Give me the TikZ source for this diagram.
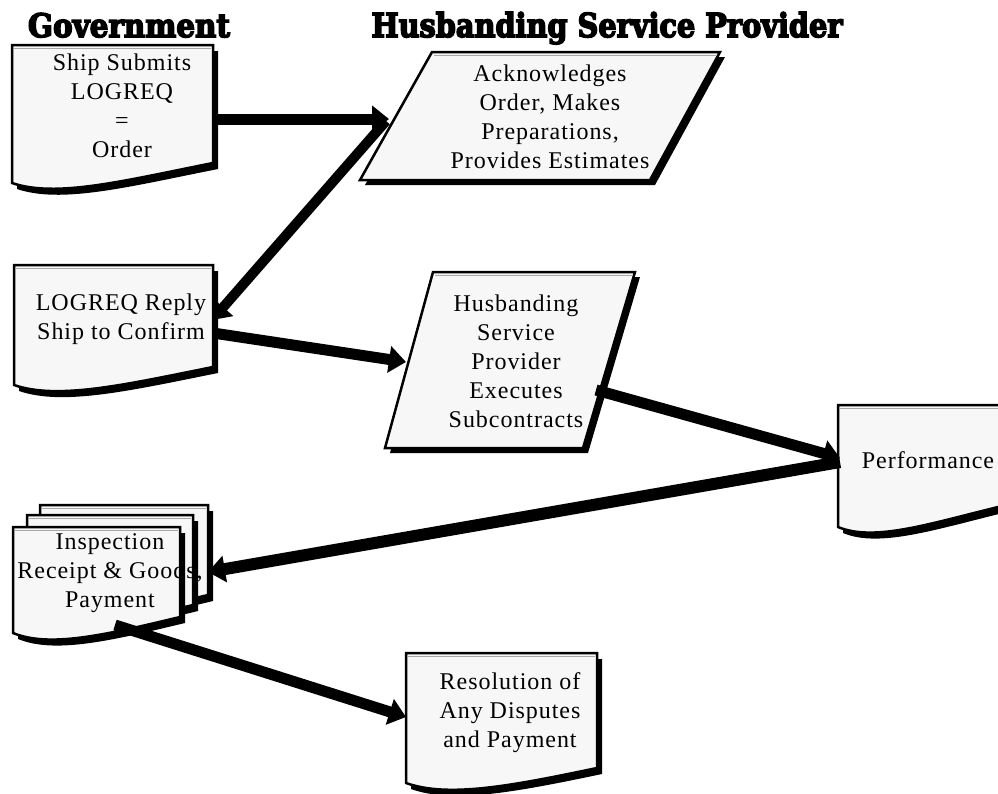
\documentclass[tikz,border=0pt]{standalone}
\usepackage{fontspec}
\setmainfont{Liberation Serif}[LetterSpace=4]
\newfontfamily\headfont{DejaVu Serif Bold}[FakeBold=5]
\usetikzlibrary{arrows.meta}
\definecolor{docfill}{HTML}{F7F7F7}
\tikzset{
  arr/.style={line width=11pt, -{Triangle[length=17pt,width=26pt]}},
  lbl/.style={align=center, inner sep=0pt, font=\fontsize{24}{29}\selectfont},
  hdr/.style={inner sep=0pt, anchor=base},
  outl/.style={fill=docfill, draw=black, line width=2.5pt, line join=miter},
  shad/.style={fill=black},
}
% document shape: L, T, R, BL, BR
\newcommand\docpath[5]{(#1,#2) -- (#3,#2) -- (#3,#5) .. controls ({#1+0.55*(#3-#1)},{#5+18}) and ({#1+0.22*(#3-#1)},{#4+15}) .. (#1,#4) -- cycle}
\newcommand\mydoc[5]{%
  \begin{scope}[shift={(5,6)}]\fill[shad] \docpath{#1}{#2}{#3}{#4}{#5};\end{scope}
  \filldraw[outl] \docpath{#1}{#2}{#3}{#4}{#5};
  \draw[gray!70, line width=1pt] ({#1+2},{#2+3.5}) -- ({#3-2},{#2+3.5});
}
% parallelogram: TL, TR, BL, BR, T, B
\newcommand\parpath[6]{(#1,#5) -- (#2,#5) -- (#4,#6) -- (#3,#6) -- cycle}
\newcommand\mypar[6]{%
  \begin{scope}[shift={(5,5)}]\fill[shad] \parpath{#1}{#2}{#3}{#4}{#5}{#6};\end{scope}
  \filldraw[outl] \parpath{#1}{#2}{#3}{#4}{#5}{#6};
  \draw[gray!70, line width=1pt] ({#1+2},{#5+3.5}) -- ({#2-3},{#5+3.5});
}
\begin{document}
\begin{tikzpicture}[x=1pt,y=-1pt]
\useasboundingbox (0,0) rectangle (998,793);
\clip (0,0) rectangle (998,793);

% headers
\node[hdr] (hgov) at (129,37) {\resizebox{202pt}{24pt}{\headfont Government}};
\node[hdr] (hhsp) at (607,37) {\resizebox{471pt}{25pt}{\headfont Husbanding Service Provider}};

% shapes
\mydoc{12}{45}{213}{183}{163}
\mypar{432}{720}{360}{650}{52}{180}
\mydoc{14}{265}{213}{385}{367}
\mypar{433}{635}{385}{583}{272}{448}
\mydoc{838}{405}{1002}{527}{506}
\mydoc{40}{505}{208}{612}{595}
\mydoc{27}{515}{193}{622}{605}
\mydoc{13}{527}{180}{633}{617}
\mydoc{406}{653}{597}{783}{768}

% texts
\node[lbl] (ship) at (122,106) {Ship Submits\\LOGREQ\\=\\Order};
\node[lbl] (ack) at (550,117) {Acknowledges\\Order, Makes\\Preparations,\\Provides Estimates};
\node[lbl] (reply) at (121,319) {LOGREQ Reply\\Ship to Confirm};
\node[lbl] (exec) at (516,361) {Husbanding\\Service\\Provider\\Executes\\Subcontracts};
\node[lbl] (perf) at (928,460) {Performance};
\node[lbl] (insp) at (110,573) {Inspection\\Receipt \& Goods,\\Payment};
\node[lbl] (res) at (510,713) {Resolution of\\Any Disputes\\and Payment};

% connector points
\coordinate (shipR) at (215,119);
\coordinate (ackL) at (389,119);
\coordinate (ackLL) at (386,121);
\coordinate (replyR) at (212,320);
\coordinate (replyR2) at (213,333);
\coordinate (execL) at (406,362);
\coordinate (execR) at (596,390);
\coordinate (perfL) at (840,458);
\coordinate (perfL2) at (840,462);
\coordinate (inspR) at (208,572);
\coordinate (inspB) at (115,625);
\coordinate (resL) at (406,717);

% connectors
\draw[arr] (shipR) -- (ackL);
\draw[arr, line width=10pt] (ackLL) -- (replyR);
\draw[arr] (replyR2) -- (execL);
\draw[arr] (execR) -- (perfL);
\draw[arr, line width=12pt] (perfL2) -- (inspR);
\draw[arr] (inspB) -- (resL);
\end{tikzpicture}
\end{document}
